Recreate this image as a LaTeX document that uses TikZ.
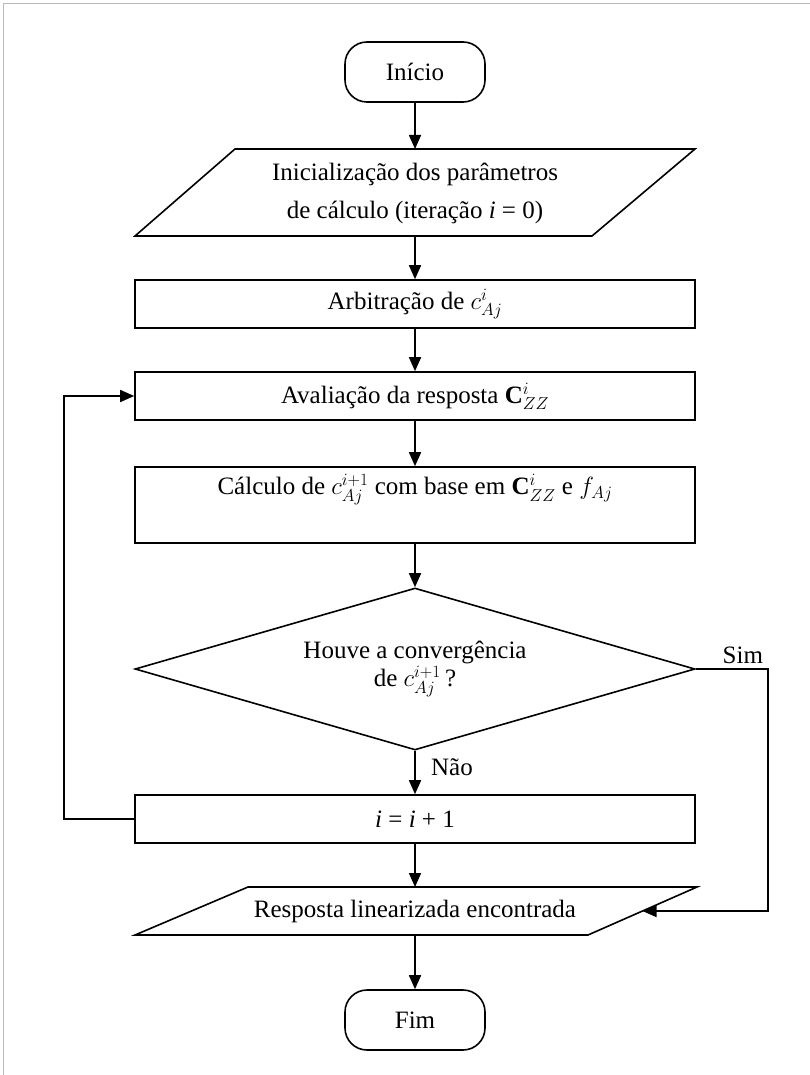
\documentclass[tikz,border=0pt]{standalone}
\usepackage{fontspec}
\setmainfont{Liberation Serif}
\usetikzlibrary{arrows.meta,shapes.geometric}
\begin{document}
\begin{tikzpicture}[x=1pt,y=-1pt, line width=1.6pt,
  font=\fontsize{25}{30}\selectfont,
  arr/.style={-{Triangle[length=14pt,width=12pt]}},
  proc/.style={draw, minimum width=560pt, minimum height=48pt, inner sep=0pt},
  term/.style={draw, rounded corners=22pt, minimum width=140pt, minimum height=60pt, inner sep=0pt},
  dec/.style={draw, diamond, aspect=3.46, minimum width=560pt, minimum height=162pt, inner sep=0pt, align=center},
  io/.style={draw, line join=miter},
  txt/.style={align=center, inner sep=0pt}]
\useasboundingbox (0,0) rectangle (810,1075);
\draw[gray!55, line width=1pt] (3,1075) -- (3,4) -- (810,4);

\node[term] (ini) at (415,72) {Início};

\draw[io] (235,149) -- (695,149) -- (592,236) -- (135,236) -- cycle;
\node[txt, font=\fontsize{25}{38}\selectfont] (p1) at (415,193) {Inicialização dos parâmetros\\de cálculo (iteração \textit{i} = 0)};
\coordinate (p1n) at (415,149);
\coordinate (p1s) at (415,236);

\node[proc] (b2) at (415,304) {Arbitração de $c^{i}_{Aj}$};
\node[proc] (b3) at (415,396) {Avaliação da resposta $\mathbf{C}^{i}_{ZZ}$};
\node[proc, minimum height=76pt, align=center] (b4) at (415,505) {Cálculo de $c^{i+1}_{Aj}$ com base em $\mathbf{C}^{i}_{ZZ}$ e $f_{Aj}$\\ \strut};
\node[dec, font=\fontsize{25}{28}\selectfont] (d) at (415,669) {Houve a convergência\\de $c^{i+1}_{Aj}$\,?};
\node[proc] (b5) at (415,819) {\textit{i} = \textit{i} + 1};

\draw[io] (248,887) -- (697,887) -- (588,935) -- (135,935) -- cycle;
\node[txt] (p2) at (415,911) {Resposta linearizada encontrada};
\coordinate (p2n) at (415,887);
\coordinate (p2s) at (415,935);
\coordinate (p2e) at (642.5,911);

\node[term] (fim) at (415,1020) {Fim};

\draw[arr] (ini) -- (p1n);
\draw[arr] (p1s) -- (b2);
\draw[arr] (b2) -- (b3);
\draw[arr] (b3) -- (b4);
\draw[arr] (b4) -- (d);
\draw[arr] (d) -- (b5) node[pos=0.38, anchor=west, xshift=12pt] {Não};
\draw[arr] (b5.west) -- ++(-70,0) |- (b3.west);
\draw[arr] (d.east) -- ++(72,0) coordinate (sc) |- (p2e);
\node[anchor=south east, inner sep=4pt] (sim) at (sc) {Sim};
\draw[arr] (b5) -- (p2n);
\draw[arr] (p2s) -- (fim);
\end{tikzpicture}
\end{document}
